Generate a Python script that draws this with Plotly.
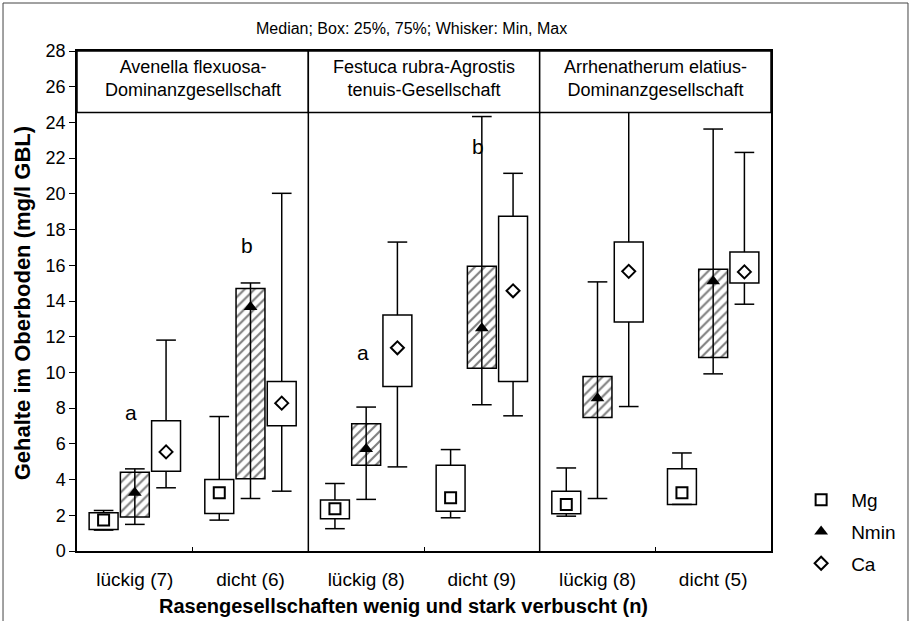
import plotly.graph_objects as go

# ---------------- data ----------------
categories = ["lückig (7)", "dicht (6)", "lückig (8)", "dicht (9)", "lückig (8)", "dicht (5)"]
groups = ["Avenella flexuosa-<br>Dominanzgesellschaft",
          "Festuca rubra-Agrostis<br>tenuis-Gesellschaft",
          "Arrhenatherum elatius-<br>Dominanzgesellschaft"]

# Mg
mg_min = [1.17, 1.73, 1.25, 1.86, 1.95, 2.61]
mg_q1 = [1.21, 2.10, 1.81, 2.23, 2.09, 2.61]
mg_med = [1.73, 3.26, 2.37, 2.98, 2.61, 3.26]
mg_q3 = [2.14, 4.00, 2.85, 4.80, 3.35, 4.60]
mg_max = [2.27, 7.53, 3.78, 5.68, 4.65, 5.49]

# Nmin
n_min = [1.49, 2.94, 2.89, 8.19, 2.94, 9.92]
n_q1 = [1.90, 4.04, 4.80, 10.23, 7.48, 10.83]
n_med = [3.26, 13.67, 5.71, 12.47, 8.56, 15.11]
n_q3 = [4.41, 14.70, 7.13, 15.94, 9.77, 15.78]
n_max = [4.60, 15.01, 8.06, 24.33, 15.07, 23.63]

# Ca
ca_min = [3.54, 3.35, 4.71, 7.57, 8.09, 13.82]
ca_q1 = [4.46, 7.01, 9.21, 9.49, 12.83, 15.01]
ca_med = [5.55, 8.28, 11.38, 14.57, 15.66, 15.63]
ca_q3 = [7.29, 9.49, 13.21, 18.75, 17.30, 16.74]
ca_max = [11.81, 20.03, 17.30, 21.15, 25.50, 22.32]

# significance letters: (category index, y value, letter)
letters_cat = [0, 1, 2, 3]
letters_y = [7.75, 17.1, 11.1, 22.65]
letters_txt = ["a", "b", "a", "b"]

y_ticks = list(range(0, 29, 2))

# ---------------- styling ----------------
FONT = "Liberation Sans, Arial, sans-serif"
BOX_W = 0.25
OFF = 0.27
CAP = 0.085
HEADER_BOTTOM = 24.55
Y_TOP = 28

fig = go.Figure()

series = [
    ("Mg", -OFF, mg_min, mg_q1, mg_med, mg_q3, mg_max,
     dict(symbol="square-open", size=11, color="black", line=dict(width=2)), False),
    ("Nmin", 0.0, n_min, n_q1, n_med, n_q3, n_max,
     dict(symbol="triangle-up", size=12, color="black"), True),
    ("Ca", OFF, ca_min, ca_q1, ca_med, ca_q3, ca_max,
     dict(symbol="diamond-open", size=10, color="black", line=dict(width=2)), False),
]

idx = list(range(len(categories)))

for name, off, vmin, q1, med, q3, vmax, mk, hatched in series:
    xs = [i + off for i in idx]
    # whiskers
    wx, wy = [], []
    for x, a, b, c, d in zip(xs, vmin, q1, q3, vmax):
        if hatched:
            wx += [x, x, None]
            wy += [a, d, None]
        else:
            wx += [x, x, None, x, x, None]
            wy += [a, b, None, c, d, None]
        wx += [x - CAP, x + CAP, None, x - CAP, x + CAP, None]
        wy += [a, a, None, d, d, None]
    fig.add_trace(go.Scatter(x=wx, y=wy, mode="lines",
                             line=dict(color="black", width=1.5),
                             showlegend=False, hoverinfo="skip"))
    # boxes
    marker = dict(color="white", line=dict(color="black", width=1.5))
    if hatched:
        marker["pattern"] = dict(shape="/", fgcolor="black", bgcolor="white",
                                 size=7, solidity=0.3)
    fig.add_trace(go.Bar(x=xs, y=[c - b for b, c in zip(q1, q3)], base=q1,
                         width=BOX_W, marker=marker, showlegend=False,
                         hoverinfo="skip"))
    # medians
    fig.add_trace(go.Scatter(x=xs, y=med, mode="markers", name=name,
                             marker=mk, legendgroup=name))

shapes = []
annotations = []
# group header boxes
for g, label in enumerate(groups):
    x0 = -0.5 + 2 * g
    shapes.append(dict(type="rect", xref="x", yref="y", x0=x0, x1=x0 + 2,
                       y0=HEADER_BOTTOM, y1=Y_TOP, fillcolor="white",
                       line=dict(color="black", width=1.5), layer="above"))
    annotations.append(dict(x=x0 + 1, y=26.45, xref="x", yref="y", text=label,
                            showarrow=False, font=dict(size=18, family=FONT, color="black")))
    if g > 0:
        shapes.append(dict(type="line", xref="x", yref="y", x0=x0, x1=x0,
                           y0=0, y1=HEADER_BOTTOM,
                           line=dict(color="black", width=1.5), layer="above"))

# whole-figure frame
shapes.append(dict(type="rect", xref="paper", yref="paper",
                   x0=-0.1066, x1=1.1974, y0=-0.16, y1=1.096,
                   line=dict(color="#444", width=1), layer="below"))

for c, yv, t in zip(letters_cat, letters_y, letters_txt):
    annotations.append(dict(x=c - 0.03, y=yv, xref="x", yref="y", text=t,
                            showarrow=False, font=dict(size=21, family=FONT, color="black")))

annotations.append(dict(x=0.4827, y=1.066, xref="paper", yref="paper",
                        text="Median; Box: 25%, 75%; Whisker: Min, Max",
                        showarrow=False, font=dict(size=16, family=FONT, color="black")))
annotations.append(dict(x=0.47, y=-0.11, xref="paper", yref="paper",
                        text="<b>Rasengesellschaften wenig und stark verbuscht (n)</b>",
                        showarrow=False, yanchor="middle",
                        font=dict(size=20, family=FONT, color="black")))
annotations.append(dict(x=-0.078, y=0.495, xref="paper", yref="paper",
                        text="<b>Gehalte im Oberboden (mg/l GBL)</b>", textangle=-90,
                        showarrow=False, xanchor="center", yanchor="middle",
                        font=dict(size=22, family=FONT, color="black")))

fig.update_layout(
    width=917, height=621,
    margin=dict(l=77, r=146, t=51, b=70),
    paper_bgcolor="white", plot_bgcolor="white",
    barmode="overlay",
    font=dict(family=FONT, color="black"),
    shapes=shapes, annotations=annotations,
    showlegend=True,
    legend=dict(x=1.029, y=0.14, xanchor="left", yanchor="top",
                font=dict(size=19, family=FONT, color="black"),
                traceorder="grouped", tracegroupgap=4, itemwidth=50,
                bgcolor="rgba(0,0,0,0)"),
    xaxis=dict(range=[-0.5, 5.5], tickmode="array", tickvals=idx, ticktext=categories,
               ticks="", showline=True, mirror=True, linecolor="black", linewidth=1.5,
               showgrid=False, zeroline=False, ticklabelstandoff=10,
               tickfont=dict(size=19, family=FONT, color="black"),
               minor=dict(tickmode="array", tickvals=[0.5, 1.5, 2.5, 3.5, 4.5],
                          ticks="inside", ticklen=4, tickcolor="black")),
    yaxis=dict(range=[0, Y_TOP], tickmode="array", tickvals=y_ticks,
               ticks="outside", ticklen=6, tickcolor="black",
               showline=True, mirror=True, linecolor="black", linewidth=1.5,
               showgrid=False, zeroline=False,
               tickfont=dict(size=18, family=FONT, color="black")),
)

fig.write_html("out.html", config={"displayModeBar": False},
               post_script="document.body.style.margin='0';document.body.style.overflow='hidden';")
